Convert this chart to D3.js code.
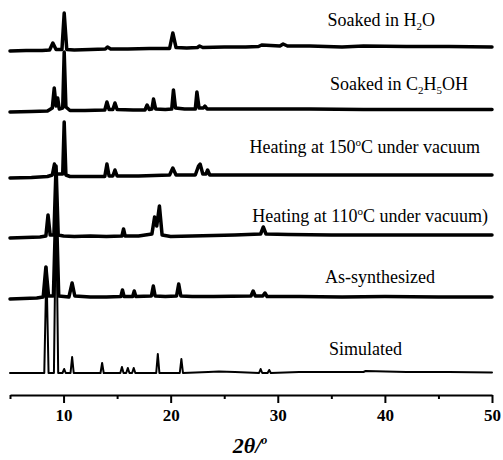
<!DOCTYPE html>
<html>
<head>
<meta charset="utf-8">
<script src="https://cdnjs.cloudflare.com/ajax/libs/d3/7.8.5/d3.min.js"></script>
<style>
  body { margin:0; background:#fff; }
  svg { display:block; }
</style>
</head>
<body>
<script>
var width = 503;
var height = 460;

// 2theta / intensity, each trace relative to its own baseline
var thetaH2O = [5,6.5,8,8.7,9.0,9.3,9.85,10.06,10.3,11,12.5,13.9,14.1,14.4,16,18,19.9,20.2,20.5,21.5,22.5,22.7,23,25,27,28.2,28.5,30.2,30.5,30.9,33,36,38,42,46,50];
var intH2O   = [0,0.5,0.5,1,8,1.5,1.5,38,1.5,1,1.5,2,4,2,2,2.5,2.5,18,3.5,3,3.5,5,3.5,4,4,4.5,6,5,7,5,5,4,5,4.5,4.5,4];

var thetaEtOH = [5,7,8.5,8.95,9.13,9.3,9.45,9.6,9.92,10.06,10.22,10.6,12,13.85,14.05,14.25,14.6,14.8,15.0,16.5,17.6,17.8,18.0,18.25,18.4,18.6,19.5,20.1,20.26,20.45,21.3,22.3,22.45,22.65,23.05,23.2,23.4,25,27,30,33,38,45,50];
var intEtOH   = [0,0.5,1,4,24,6,14,3,4,60,5,1.5,1.5,2,10,2.5,2.5,9,2.5,2,2,7,2.5,3,13,3,2.5,3,22,4,3,3,20,4,4,6,3,3,3,3,3,2.5,2.5,2.5];

var theta150 = [5,7,8.5,8.95,9.15,9.35,9.92,10.06,10.22,10.6,12,13.85,14.05,14.25,14.6,14.8,15.0,17,19.9,20.2,20.5,22.3,22.6,22.75,23.0,23.3,23.45,23.65,26,30,34,40,45,50];
var int150   = [0,0.5,1.5,3,14,4,4,56,3,1.5,1.5,1.5,14,2,2,8,2,2,3,10,3,3,12,14,4,4,8,3,3,3,3,3,3,3];

var theta110 = [5,7.8,8.35,8.55,8.75,9.1,9.3,9.5,10,11,12.5,14,15.45,15.6,15.75,17,18.25,18.5,18.7,18.95,19.2,20,22,24,26,28.4,28.65,28.9,31,35,40,45,50];
var int110   = [0,1,2,23,3,3,72,3,2,1.5,2,1.5,2,9,2,2,4,21,12,32,3,1.5,2,2.5,3,4,11,4,3.5,3,3,3,3];

var thetaAs = [5,7.5,8.1,8.35,8.6,9.05,9.3,9.55,10.5,10.8,11.05,12.5,14,15.35,15.5,15.65,16.45,16.6,16.75,18.2,18.38,18.55,19.5,20.55,20.75,20.95,22,24,27.5,27.7,27.9,28.6,28.8,29,32,36,40,45,50];
var intAs   = [0,1,2,32,3,3,100,3,2,16,3,2,2,2.5,9,2.5,2.5,8,2.5,3,13,3,2.5,3,15,3,2.5,2.5,3,8,3,3,6,2.5,2.5,2,2.5,2,2];

var thetaSim = [5,8.2,8.4,8.6,9.1,9.3,9.5,9.9,10.06,10.2,10.65,10.8,10.95,13.45,13.6,13.75,15.3,15.45,15.6,15.85,16.0,16.15,16.4,16.55,16.7,18.65,18.8,18.95,20.85,21.0,21.15,23.5,24.5,26,28.25,28.4,28.55,29.05,29.2,29.35,32,35,38,38.2,42,46,50];
var intSim   = [0,0,106,0,0,175,0,0,4,0,0,16,0,0,10,0,0,6,0,0,5,0,0,5,0,0,19,0,0,14,0,1,1.5,1,0,4,0,0,3,0,1,1,1,2,1,1,0.5];

// vertical stacking offsets (same intensity units)
var offsets = [322, 261, 195, 135, 74, 0];
var thetas = [thetaH2O, thetaEtOH, theta150, theta110, thetaAs, thetaSim];
var intensities = [intH2O, intEtOH, int150, int110, intAs, intSim];

// labels: [text, kind] pieces, kind "" normal, "sub" subscript, "sup" superscript
var labels = [
  [["Soaked in H",""],["2","sub"],["O",""]],
  [["Soaked in C",""],["2","sub"],["H",""],["5","sub"],["OH",""]],
  [["Heating at 150",""],["o","sup"],["C under vacuum",""]],
  [["Heating at 110",""],["o","sup"],["C under vacuum)",""]],
  [["As-synthesized",""]],
  [["Simulated",""]]
];
// right edge and baseline of each label
var labelX = [435, 468, 480, 488, 435, 402];
var labelY = [26, 90, 153, 222, 283, 355];

var majorTicks = [10, 20, 30, 40, 50];
var minorTicks = [5, 15, 25, 35, 45];

var serif = '"Liberation Serif", "Times New Roman", serif';

var svg = d3.select('body').append('svg')
    .attr('width', width)
    .attr('height', height);

var x = d3.scaleLinear().domain([5, 50]).range([10, 492]);
var y = d3.scaleLinear().domain([0, 370]).range([373, 3]);

var line = d3.line()
    .x(function(d){ return x(d[0]); })
    .y(function(d){ return y(d[1]); });

thetas.forEach(function(th, i){
  var pts = th.map(function(t, j){ return [t, intensities[i][j] + offsets[i]]; });
  svg.append('path')
    .attr('d', line(pts))
    .attr('fill', 'none')
    .attr('stroke', '#000')
    .attr('stroke-width', i == 5 ? 2 : 3.5)
    .attr('stroke-linejoin', 'round')
    .attr('stroke-linecap', 'round');
});

labels.forEach(function(parts, i){
  var t = svg.append('text')
    .attr('x', labelX[i])
    .attr('y', labelY[i])
    .attr('text-anchor', 'end')
    .attr('font-family', serif)
    .attr('font-size', '18px')
    .attr('fill', '#000');
  var shift = 0;
  parts.forEach(function(p){
    var want = p[1] == 'sub' ? 4 : p[1] == 'sup' ? -7 : 0;
    var s = t.append('tspan').text(p[0]).attr('dy', want - shift);
    if (p[1] != '') s.attr('font-size', '11px');
    shift = want;
  });
});

var axisG = svg.append('g').attr('transform', 'translate(0,395)');

axisG.call(d3.axisBottom(x).tickValues(majorTicks).tickSize(8).tickSizeOuter(0).tickPadding(6));
axisG.append('g').call(d3.axisBottom(x).tickValues(minorTicks).tickSize(4).tickFormat(''))
  .select('.domain').remove();

axisG.selectAll('path, line').attr('stroke', '#000').attr('stroke-width', 2);
axisG.selectAll('text')
  .attr('font-family', serif)
  .attr('font-weight', 'bold')
  .attr('font-size', '17px')
  .attr('fill', '#000');

var xt = svg.append('text')
  .attr('x', 250)
  .attr('y', 453)
  .attr('text-anchor', 'middle')
  .attr('font-family', serif)
  .attr('font-style', 'italic')
  .attr('font-weight', 'bold')
  .attr('font-size', '22px')
  .attr('fill', '#000');
xt.append('tspan').text('2\u03B8/');
xt.append('tspan').text('o').attr('font-size', '12px').attr('dy', -9);
</script>
</body>
</html>
